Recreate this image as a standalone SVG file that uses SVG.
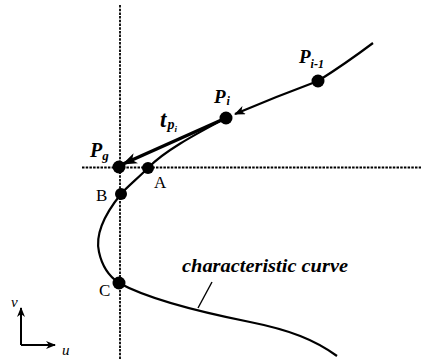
<svg xmlns="http://www.w3.org/2000/svg" width="424" height="359" viewBox="0 0 424 359">
<style>
.guide{stroke:#000;stroke-width:1.8;stroke-dasharray:2.5 1.2;fill:none}
.curve{stroke:#000;stroke-width:2.2;fill:none}
.dot{fill:#000}
.lbl{font-family:"Liberation Serif","Times New Roman",serif;font-weight:bold;font-style:italic;fill:#000}
.pt{font-family:"Liberation Serif","Times New Roman",serif;fill:#000;font-size:17px}
</style>
<defs>
<marker id="bigArrow" markerWidth="15" markerHeight="11" refX="14" refY="5.5" orient="auto" markerUnits="userSpaceOnUse">
<path d="M0,0 L15,5.5 L0,11 L4,5.5 Z" fill="#000"/>
</marker>
<marker id="smallArrow" markerWidth="11" markerHeight="9" refX="10" refY="4.5" orient="auto" markerUnits="userSpaceOnUse">
<path d="M0,0 L11,4.5 L0,9 L3,4.5 Z" fill="#000"/>
</marker>
<marker id="axArrow" markerWidth="10" markerHeight="8" refX="9" refY="4" orient="auto" markerUnits="userSpaceOnUse">
<path d="M0,0 L10,4 L0,8 L3,4 Z" fill="#000"/>
</marker>
</defs>
<g id="guides">
<line class="guide" x1="120" y1="5" x2="120" y2="359"/>
<line class="guide" x1="82" y1="167.5" x2="421" y2="167.5"/>
</g>
<g id="connectors">
<path class="curve" d="M373,43 Q345,64 318,81 Q275,97 235,114" marker-end="url(#smallArrow)"/>
<path class="curve" d="M226,118 C200,132 165,150 148,168 C137,179 127,187 121,194 C104,215 95,235 99,252 C102,266 110,277 119,283 C150,300 200,312 250,322 C290,330 315,340 337,356"/>
<line x1="226" y1="118" x2="123" y2="164" stroke="#000" stroke-width="3.4" marker-end="url(#bigArrow)"/>
<line x1="212" y1="282" x2="198" y2="308" stroke="#000" stroke-width="1.4"/>
</g>
<g id="node-Pi1">
<circle class="dot" cx="318" cy="81" r="6.5"/>
<text class="lbl" x="299" y="63" font-size="19">P<tspan font-size="12" dx="0" dy="5">i-1</tspan></text>
</g>
<g id="node-Pi">
<circle class="dot" cx="226" cy="118" r="6.5"/>
<text class="lbl" x="214" y="103" font-size="19">P<tspan font-size="12" dx="1" dy="2">i</tspan></text>
</g>
<g id="node-tp">
<text class="lbl" x="160" y="127" font-size="23">t<tspan font-size="14" dx="1" dy="2">p</tspan><tspan font-size="9" dy="3">i</tspan></text>
</g>
<g id="node-Pg">
<circle class="dot" cx="119" cy="167" r="6.5"/>
<text class="lbl" x="90" y="157" font-size="20">P<tspan font-size="13" dx="0" dy="3">g</tspan></text>
</g>
<g id="node-A">
<circle class="dot" cx="148" cy="168" r="6"/>
<text class="pt" x="154" y="188">A</text>
</g>
<g id="node-B">
<circle class="dot" cx="121" cy="194" r="6"/>
<text class="pt" x="96" y="201">B</text>
</g>
<g id="node-C">
<circle class="dot" cx="119" cy="283" r="6.5"/>
<text class="pt" x="99" y="296">C</text>
</g>
<g id="curve-label">
<text class="lbl" x="182" y="272" font-size="19" textLength="166" lengthAdjust="spacingAndGlyphs">characteristic curve</text>
</g>
<g id="axes">
<path d="M21,345 L21,308" stroke="#000" stroke-width="2" fill="none" marker-end="url(#axArrow)"/>
<path d="M21,345 L55,345" stroke="#000" stroke-width="2" fill="none" marker-end="url(#axArrow)"/>
<text x="11" y="307" font-family="'Liberation Serif',serif" font-style="italic" font-size="15">v</text>
<text x="62" y="355" font-family="'Liberation Serif',serif" font-style="italic" font-size="15">u</text>
</g>
</svg>
